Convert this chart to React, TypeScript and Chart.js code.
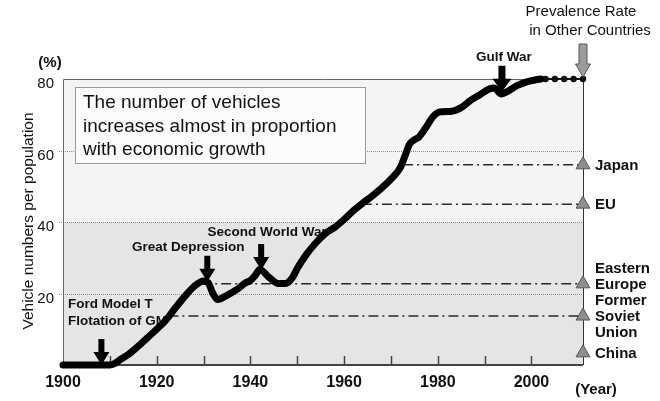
import React, { useEffect, useRef } from "react";
import { Chart, registerables } from "chart.js";

Chart.register(...registerables);

// Vehicles per population (%), by year
const years = [
  1900, 1905, 1910, 1911, 1912, 1914, 1916, 1918, 1920, 1922, 1924, 1926, 1928, 1930,
  1931, 1932, 1933, 1935, 1937, 1939, 1940, 1941, 1942, 1944, 1946, 1947.5, 1949, 1950,
  1952, 1954, 1956, 1958, 1960, 1962, 1964, 1966, 1968, 1970, 1972, 1973, 1974, 1975,
  1976, 1977.5, 1979, 1980.5, 1983, 1985, 1987, 1989, 1991, 1992, 1993.6, 1995, 1997,
  1999, 2001, 2002,
];
const vehicleRate = [
  0, 0, 0, 0.4, 1.3, 3, 5.2, 7.6, 10, 12.6, 16, 19.2, 22, 23.5,
  23, 20, 18.3, 19.5, 21, 23, 23.6, 25, 26.7, 24.5, 22.8, 22.8, 24.5, 27,
  31, 34.2, 36.8, 38.5, 40.7, 43.2, 45.3, 47.3, 49.5, 52, 55.2, 58.5, 61.8, 63,
  63.8, 66.5, 69.5, 70.8, 71, 72, 74, 75.6, 77.2, 77.5, 75.8, 76.6, 78.2,
  79.2, 79.8, 80,
];

// Projected continuation (dotted)
const projYears = [2002, 2003, 2005, 2007, 2009, 2011];
const projRate = [80, 80, 80, 80, 80, 80];

// Prevalence rate in other countries
const countryLabels = [["Japan"], ["EU"], ["Eastern", "Europe"], ["Former", "Soviet", "Union"], ["China"]];
const countryAnchorLine = [0, 0, 1, 1, 0];
const countryRate = [56, 45, 22.7, 13.7, 3.4];
const countryFromYear = [1972.6, 1963.8, 1929.5, 1922.5, null];

// Historical events
const eventLabels = [["Ford Model T", "Flotation of GM"], ["Great Depression"], ["Second World War"], ["Gulf War"]];
const eventYears = [1908.2, 1930.8, 1942.3, 1993.7];
const eventRate = [0, 23.3, 26.6, 76.4];

const xMin = 1900;
const xMax = 2011;
const xStep = 20;
const xMinorStep = 10;
const yMax = 80;
const yStep = 20;
const shadeBelow = 40;

const boxLines = ["The number of vehicles", "increases almost in proportion", "with economic growth"];
const prevalenceLines = ["Prevalence Rate", "in Other Countries"];

const FONT = "'Liberation Sans', Arial, sans-serif";

function drawDownArrow(ctx: CanvasRenderingContext2D, x: number, tipY: number, len: number, shaftW: number, headW: number, headH: number, fill: string, stroke?: string) {
  ctx.beginPath();
  ctx.moveTo(x - shaftW / 2, tipY - len);
  ctx.lineTo(x + shaftW / 2, tipY - len);
  ctx.lineTo(x + shaftW / 2, tipY - headH);
  ctx.lineTo(x + headW / 2, tipY - headH);
  ctx.lineTo(x, tipY);
  ctx.lineTo(x - headW / 2, tipY - headH);
  ctx.lineTo(x - shaftW / 2, tipY - headH);
  ctx.closePath();
  ctx.fillStyle = fill;
  ctx.fill();
  if (stroke) {
    ctx.strokeStyle = stroke;
    ctx.lineWidth = 1;
    ctx.stroke();
  }
}

// Event label placement relative to each arrow (dx, dy from the arrow tip)
const eventLabelOffsets = [
  { align: "left", dx: null as number | null, dy: -61 },
  { align: "center", dx: -19, dy: -34 },
  { align: "center", dx: 6, dy: -38 },
  { align: "center", dx: 2, dy: -35 },
];

const decorPlugin = {
  id: "decor",
  beforeDraw(chart: any) {
    const { ctx, chartArea: a, scales } = chart;
    const y = scales.y;
    const x = scales.x;
    ctx.save();
    ctx.fillStyle = "#ffffff";
    ctx.fillRect(0, 0, chart.width, chart.height);
    const y40 = y.getPixelForValue(shadeBelow);
    ctx.fillStyle = "#f4f4f4";
    ctx.fillRect(a.left, a.top, a.right - a.left, y40 - a.top);
    ctx.fillStyle = "#e5e5e5";
    ctx.fillRect(a.left, y40, a.right - a.left, a.bottom - y40);

    // dotted horizontal gridlines
    ctx.strokeStyle = "#8a8a8a";
    ctx.lineWidth = 1;
    ctx.setLineDash([1, 1]);
    for (let v = yStep; v < yMax; v += yStep) {
      const py = Math.round(y.getPixelForValue(v)) + 0.5;
      ctx.beginPath();
      ctx.moveTo(a.left - 4, py);
      ctx.lineTo(a.right, py);
      ctx.stroke();
    }
    ctx.setLineDash([]);

    // frame
    ctx.strokeStyle = "#666";
    ctx.lineWidth = 1;
    ctx.beginPath();
    ctx.moveTo(a.left + 0.5, a.bottom);
    ctx.lineTo(a.left + 0.5, a.top + 0.5);
    ctx.lineTo(a.right + 0.5, a.top + 0.5);
    ctx.stroke();
    ctx.strokeStyle = "#333";
    ctx.beginPath();
    ctx.moveTo(a.right + 0.5, a.top);
    ctx.lineTo(a.right + 0.5, a.bottom);
    ctx.stroke();
    ctx.strokeStyle = "#444";
    ctx.lineWidth = 2;
    ctx.beginPath();
    ctx.moveTo(a.left, a.bottom);
    ctx.lineTo(a.right, a.bottom);
    ctx.stroke();

    // inward tick marks every decade
    ctx.strokeStyle = "#444";
    ctx.lineWidth = 1.5;
    for (let yr = xMin + xMinorStep; yr <= 2000; yr += xMinorStep) {
      const px = Math.round(x.getPixelForValue(yr)) + 0.5;
      ctx.beginPath();
      ctx.moveTo(px, a.bottom);
      ctx.lineTo(px, a.bottom - 9);
      ctx.stroke();
    }

    // statement box
    const bx = a.left + 12;
    const by = a.top + 8;
    ctx.fillStyle = "#fbfbfb";
    ctx.fillRect(bx, by, 290, 76);
    ctx.strokeStyle = "#9a9a9a";
    ctx.lineWidth = 1;
    ctx.strokeRect(bx + 0.5, by + 0.5, 290, 76);
    ctx.fillStyle = "#111";
    ctx.font = `19px ${FONT}`;
    ctx.textAlign = "left";
    ctx.textBaseline = "alphabetic";
    boxLines.forEach((t, i) => ctx.fillText(t, bx + 8, by + 21 + i * 23.5));

    // event labels (drawn under the curve)
    ctx.font = `bold 13.5px ${FONT}`;
    ctx.textBaseline = "middle";
    eventLabels.forEach((lines, i) => {
      const ax = x.getPixelForValue(eventYears[i]);
      const ty = y.getPixelForValue(eventRate[i]);
      const o = eventLabelOffsets[i];
      lines.forEach((t, j) => {
        if (o.align === "left") {
          ctx.textAlign = "left";
          ctx.fillText(t, a.left + 5, ty + o.dy + j * 17);
        } else {
          ctx.textAlign = "center";
          ctx.fillText(t, ax + (o.dx as number), ty + o.dy + j * 17);
        }
      });
    });
    ctx.restore();
  },
  afterDatasetsDraw(chart: any) {
    const { ctx, chartArea: a, scales } = chart;
    const y = scales.y;
    const x = scales.x;
    ctx.save();

    // event arrows
    eventYears.forEach((yr, i) => {
      const ax = x.getPixelForValue(yr);
      const ty = y.getPixelForValue(eventRate[i]);
      const big = i === 3;
      drawDownArrow(ctx, ax, ty, 26, big ? 7 : 6, big ? 19 : 16, 13, "#000");
    });

    // prevalence arrow
    drawDownArrow(ctx, a.right, y.getPixelForValue(yMax) - 2, 33, 8, 15, 13, "#9c9c9c", "#555");

    // country labels
    ctx.fillStyle = "#111";
    ctx.font = `bold 15px ${FONT}`;
    ctx.textAlign = "left";
    ctx.textBaseline = "middle";
    countryLabels.forEach((lines, i) => {
      const py = y.getPixelForValue(countryRate[i]) + 1;
      lines.forEach((t, j) => {
        ctx.fillText(t, a.right + 12, py + (j - countryAnchorLine[i]) * 15.8);
      });
    });

    // prevalence caption
    ctx.font = `15px ${FONT}`;
    ctx.textAlign = "center";
    ctx.fillText(prevalenceLines[0], a.right - 2, 12);
    ctx.fillText(prevalenceLines[1], a.right + 7, 31);

    // axis captions
    ctx.font = `bold 15px ${FONT}`;
    ctx.fillText("(%)", 50, 63);
    ctx.fillText("(Year)", a.right + 13, 390);

    ctx.font = `15.5px ${FONT}`;
    ctx.translate(29, 221);
    ctx.rotate(-Math.PI / 2);
    ctx.fillText("Vehicle numbers per population", 0, 0);
    ctx.restore();
  },
};

export default function App() {
  const canvasRef = useRef<HTMLCanvasElement | null>(null);

  useEffect(() => {
    document.body.style.margin = "0";
    document.body.style.background = "#ffffff";
    const canvas = canvasRef.current;
    if (!canvas) return;

    const refLines = countryRate
      .map((v, i) => ({ v, from: countryFromYear[i] }))
      .filter((d) => d.from !== null)
      .map((d) => ({
        type: "line" as const,
        data: [
          { x: d.from as number, y: d.v },
          { x: xMax, y: d.v },
        ],
        borderColor: "#2a2a2a",
        borderWidth: 1.5,
        borderDash: [10, 4, 2, 4],
        pointRadius: 0,
        clip: false as const,
        order: 3,
      }));

    const chart = new Chart(canvas, {
      type: "line",
      data: {
        datasets: [
          {
            data: years.map((yr, i) => ({ x: yr, y: vehicleRate[i] })),
            borderColor: "#000",
            borderWidth: 7,
            borderCapStyle: "round",
            borderJoinStyle: "round",
            cubicInterpolationMode: "monotone",
            pointRadius: 0,
            clip: false,
            order: 1,
          },
          {
            data: projYears.map((yr, i) => ({ x: yr, y: projRate[i] })),
            borderColor: "#111",
            borderWidth: 2,
            pointRadius: projYears.map((_, i) => (i === 0 ? 0 : 3.2)),
            pointBackgroundColor: "#111",
            pointBorderWidth: 0,
            clip: false,
            order: 2,
          },
          ...refLines,
          {
            data: countryRate.map((v) => ({ x: xMax, y: v })),
            showLine: false,
            pointStyle: "triangle",
            pointRadius: 8,
            pointBackgroundColor: "#8e8e8e",
            pointBorderColor: "#555",
            pointBorderWidth: 1,
            clip: false,
            order: 0,
          },
        ] as any,
      },
      options: {
        responsive: false,
        animation: false,
        devicePixelRatio: 1,
        layout: { padding: { top: 79, right: 77, left: 0, bottom: 0 } },
        plugins: { legend: { display: false }, tooltip: { enabled: false } },
        scales: {
          x: {
            type: "linear",
            min: xMin,
            max: xMax,
            grid: { display: false, drawTicks: false },
            border: { display: false },
            ticks: {
              stepSize: xStep,
              includeBounds: false,
              autoSkip: false,
              maxRotation: 0,
              padding: 8,
              color: "#111",
              font: { family: FONT, size: 16, weight: "bold" },
              callback: (v: any) => String(v),
            },
            afterFit: (s: any) => {
              s.height = 36;
            },
          },
          y: {
            min: 0,
            max: yMax,
            grid: { display: false, drawTicks: false },
            border: { display: false },
            ticks: {
              stepSize: yStep,
              padding: 9,
              labelOffset: 5,
              color: "#111",
              font: { family: FONT, size: 15 },
              callback: (v: any) => (v === 0 ? "" : String(v)),
            },
            afterFit: (s: any) => {
              s.width = 63;
            },
          },
        },
      },
      plugins: [decorPlugin],
    });

    return () => chart.destroy();
  }, []);

  return (
    <div style={{ width: 660, height: 401 }}>
      <canvas ref={canvasRef} width={660} height={401} style={{ display: "block" }} />
    </div>
  );
}
